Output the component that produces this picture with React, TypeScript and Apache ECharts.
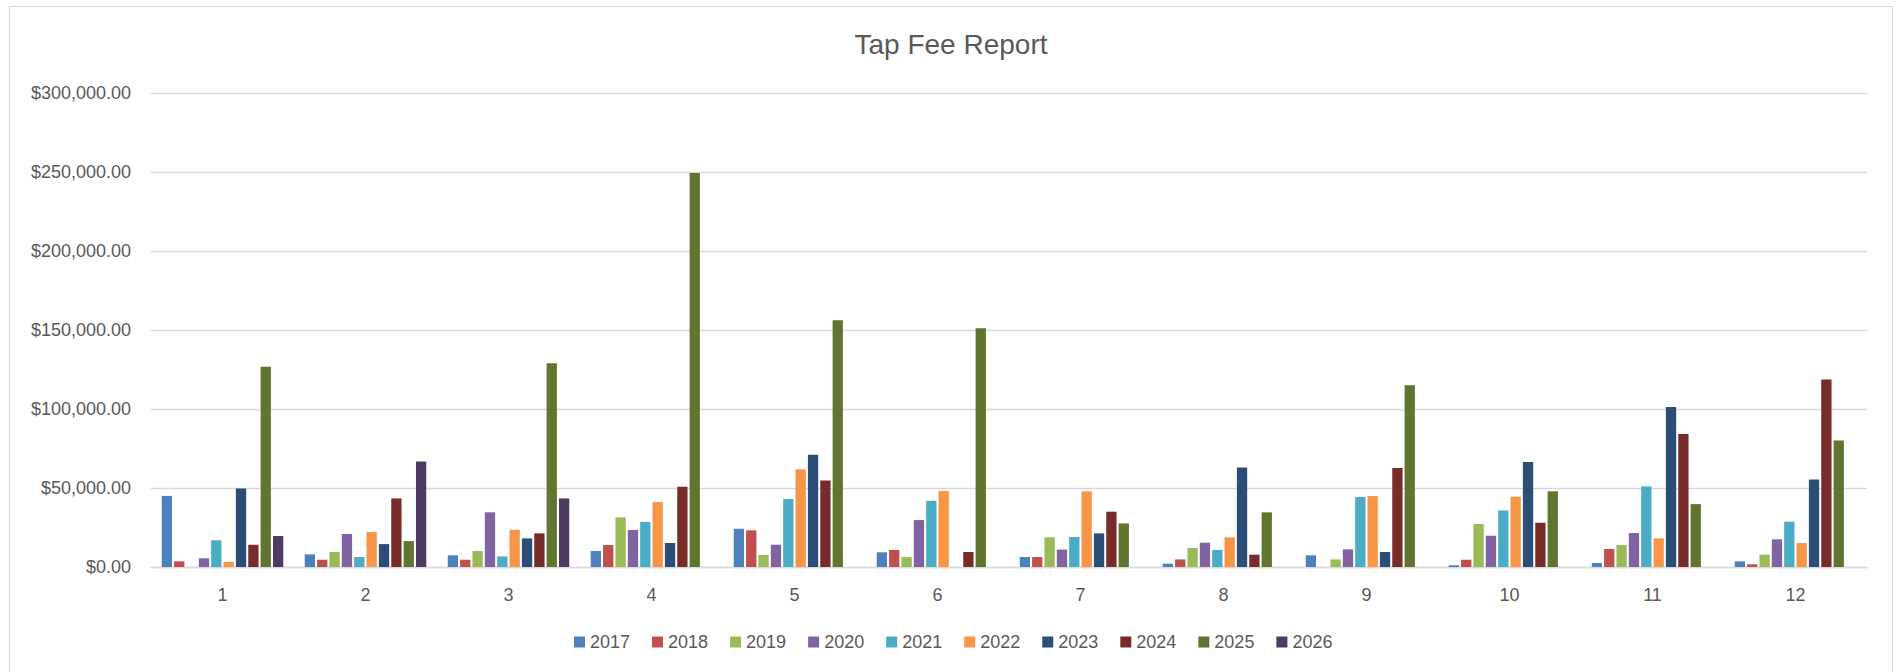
import React, { useEffect, useRef } from "react";
import * as echarts from "echarts";

const months = ["1", "2", "3", "4", "5", "6", "7", "8", "9", "10", "11", "12"];
const years = ["2017", "2018", "2019", "2020", "2021", "2022", "2023", "2024", "2025", "2026"];
const colors = ["#4F81BD", "#C0504D", "#9BBB59", "#8064A2", "#4BACC6", "#F79646", "#2C4D75", "#772C2A", "#5F7530", "#4D3B62"];

const y2017 = [45000, 8000, 7400, 10100, 24200, 9300, 6300, 2100, 7400, 1100, 2500, 3600];
const y2018 = [3600, 4600, 4600, 13900, 23200, 10800, 6300, 4800, null, 4600, 11400, 1700];
const y2019 = [null, 9500, 10100, 31400, 7600, 6300, 18800, 12000, 4800, 27200, 13900, 7800];
const y2020 = [5500, 20900, 34600, 23400, 14100, 29700, 11000, 15400, 11200, 19800, 21500, 17500];
const y2021 = [16900, 6300, 6700, 28500, 43000, 41900, 19000, 10800, 44300, 35800, 51000, 28700];
const y2022 = [3200, 22100, 23600, 41100, 61800, 48100, 47900, 18800, 44900, 44500, 18100, 15200];
const y2023 = [49700, 14500, 18100, 15200, 71000, null, 21300, 63000, 9500, 66400, 101200, 55400];
const y2024 = [14100, 43400, 21300, 50800, 54800, 9500, 35000, 7800, 62600, 28000, 84100, 118700];
const y2025 = [126700, 16400, 129000, 249400, 156200, 151100, 27600, 34600, 115100, 47900, 39800, 80100];
const y2026 = [19600, 66800, 43400, null, null, null, null, null, null, null, null, null];

const seriesValues = [y2017, y2018, y2019, y2020, y2021, y2022, y2023, y2024, y2025, y2026];

const FONT = "'Liberation Sans', Arial, sans-serif";
const TEXT = "#595959";
const GRID = "#d9d9d9";

export default function App() {
  const ref = useRef<HTMLDivElement>(null);
  useEffect(() => {
    if (!ref.current) return;
    const chart = echarts.init(ref.current, null, { renderer: "svg" });
    chart.setOption({
      animation: false,
      backgroundColor: "#ffffff",
      color: colors,
      title: {
        text: "Tap Fee Report",
        left: "center",
        top: 30,
        padding: 0,
        textStyle: { fontFamily: FONT, fontSize: 28, fontWeight: "normal", color: TEXT },
      },
      graphic: [
        {
          type: "rect",
          z: -10,
          shape: { x: 9.5, y: 6.5, width: 1883, height: 700 },
          style: { fill: "none", stroke: GRID, lineWidth: 1.2 },
        },
      ],
      legend: {
        data: years,
        left: 574,
        top: 633,
        padding: 0,
        itemWidth: 11,
        itemHeight: 11,
        itemGap: 22,
        icon: "rect",
        textStyle: { fontFamily: FONT, fontSize: 18, color: TEXT },
      },
      grid: { left: 151, right: 35, top: 93, bottom: 105, containLabel: false },
      xAxis: {
        type: "category",
        data: months,
        axisLine: { show: true, lineStyle: { color: GRID, width: 1.3 } },
        axisTick: { show: false },
        axisLabel: { margin: 19, fontFamily: FONT, fontSize: 18, color: TEXT },
      },
      yAxis: {
        type: "value",
        min: 0,
        max: 300000,
        interval: 50000,
        axisLine: { show: false },
        axisTick: { show: false },
        splitLine: { lineStyle: { color: GRID, width: 1.3 } },
        axisLabel: {
          margin: 20,
          fontFamily: FONT,
          fontSize: 18,
          color: TEXT,
          formatter: (v: number) =>
            "$" + v.toLocaleString("en-US", { minimumFractionDigits: 2, maximumFractionDigits: 2 }),
        },
      },
      series: years.map((y, i) => ({
        name: y,
        type: "bar",
        data: seriesValues[i],
        barWidth: 10.3,
        barGap: "20%",
        itemStyle: { color: colors[i] },
      })),
    });
    return () => chart.dispose();
  }, []);
  return (
    <div
      ref={ref}
      style={{ position: "fixed", left: 0, top: 0, width: 1902, height: 672, background: "#fff" }}
    />
  );
}
